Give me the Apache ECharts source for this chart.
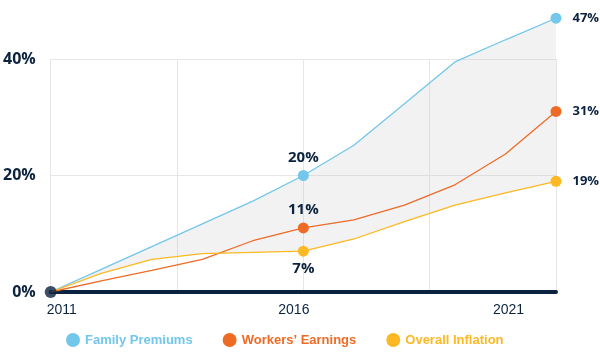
<!DOCTYPE html>
<html lang="en">
<head>
    <meta charset="utf-8">
    <title>Premiums vs Earnings vs Inflation</title>
    <script src="https://cdnjs.cloudflare.com/ajax/libs/echarts/6.0.0/echarts.min.js"></script>
    <style>
        html, body {margin: 0; padding: 0; background: #fff;}
        #chart {width: 600px; height: 354px;}
    </style>
</head>
<body>
<div id="chart"></div>
<script type="application/javascript">
    // data (cumulative % change since 2011)
    var years = ['2011', '2012', '2013', '2014', '2015', '2016', '2017', '2018', '2019', '2020', '2021'];
    var familyPremiums = [0, 3.9, 7.8, 11.7, 15.6, 20, 25.2, 32.3, 39.5, 43.3, 47];
    var workersEarnings = [0, 1.9, 3.7, 5.6, 8.8, 11, 12.4, 14.9, 18.4, 23.7, 31];
    var overallInflation = [0, 3.2, 5.6, 6.6, 6.8, 7, 9.1, 12.1, 14.9, 17.0, 19];
    var yTicks = [0, 20, 40];
    var markedIdx = [5, 10];

    var navy = '#0c2340';
    var blue = '#72c7ea';
    var orange = '#ee6b26';
    var yellow = '#fdb823';

    // grey band between premiums and inflation
    var bandValues = familyPremiums.map(function (v, i) {
        return +(v - overallInflation[i]).toFixed(2);
    });

    function makeData(values, midPos) {
        return values.map(function (v, i) {
            if (markedIdx.indexOf(i) < 0) {
                return {value: v, symbol: 'none'};
            }
            var last = i === values.length - 1;
            return {
                value: v,
                symbol: 'circle',
                symbolSize: 11,
                label: {
                    show: true,
                    position: last ? 'right' : midPos,
                    distance: last ? 11 : 5,
                    formatter: function (p) { return p.value + '%'; },
                    color: navy,
                    fontFamily: 'Open Sans',
                    fontWeight: 'bold',
                    fontSize: last ? 13 : 15
                }
            };
        });
    }

    function lineSeries(name, values, color, midPos) {
        return {
            name: name,
            type: 'line',
            clip: false,
            z: 3,
            showSymbol: true,
            itemStyle: {color: color},
            lineStyle: {color: color, width: 1.3},
            emphasis: {disabled: true},
            data: makeData(values, midPos)
        };
    }

    var chart = echarts.init(document.getElementById('chart'));

    var option = {
        animation: false,
        grid: {left: 50, right: 44, top: 59, bottom: 62},
        legend: {
            left: 61,
            top: 328,
            icon: 'circle',
            itemWidth: 14,
            itemHeight: 14,
            itemGap: 30,
            textStyle: {fontFamily: 'Liberation Sans', fontWeight: 'bold', fontSize: 13},
            data: [
                {name: 'Family Premiums', textStyle: {color: blue}},
                {name: 'Workers’ Earnings', textStyle: {color: orange}},
                {name: 'Overall Inflation', textStyle: {color: yellow}}
            ]
        },
        xAxis: [{
            type: 'category',
            data: years,
            boundaryGap: false,
            axisLine: {lineStyle: {color: navy, width: 4}},
            axisTick: {show: false},
            splitLine: {show: false},
            axisLabel: {
                interval: 4,
                margin: 11,
                formatter: function (v, i) {
                    if (i === 0) return '{a|' + v + '}';
                    if (i === 5) return '{b|' + v + '}';
                    return '{c|' + v + '}';
                },
                rich: {
                    a: {fontFamily: 'Liberation Sans', fontSize: 14, color: navy, padding: [0, 0, 0, 22]},
                    b: {fontFamily: 'Liberation Sans', fontSize: 14, color: navy, padding: [0, 19, 0, 0]},
                    c: {fontFamily: 'Liberation Sans', fontSize: 14, color: navy, padding: [0, 95, 0, 0]}
                }
            }
        }, {
            // only used for the vertical grid lines
            type: 'value',
            position: 'bottom',
            min: 0,
            max: 10,
            interval: 2.5,
            axisLine: {show: false},
            axisTick: {show: false},
            axisLabel: {show: false},
            splitLine: {show: true, lineStyle: {color: '#e6e6e6', width: 1}}
        }],
        yAxis: {
            type: 'value',
            min: yTicks[0],
            max: yTicks[yTicks.length - 1],
            interval: 20,
            axisLine: {show: false},
            axisTick: {show: false},
            axisLabel: {
                margin: 15,
                formatter: '{value}%',
                color: navy,
                fontFamily: 'Open Sans',
                fontWeight: 'bold',
                fontSize: 16
            },
            splitLine: {lineStyle: {color: '#e6e6e6', width: 1}}
        },
        series: [
            {
                name: 'base',
                type: 'line',
                stack: 'band',
                clip: false,
                silent: true,
                symbol: 'none',
                lineStyle: {opacity: 0},
                data: overallInflation
            },
            {
                name: 'band',
                type: 'line',
                stack: 'band',
                clip: false,
                silent: true,
                z: 1,
                symbol: 'none',
                lineStyle: {opacity: 0},
                areaStyle: {color: 'rgba(190,190,190,0.2)', opacity: 1},
                data: bandValues
            },
            lineSeries('Family Premiums', familyPremiums, blue, 'top'),
            lineSeries('Workers’ Earnings', workersEarnings, orange, 'top'),
            lineSeries('Overall Inflation', overallInflation, yellow, 'bottom'),
            {
                name: 'start',
                type: 'scatter',
                z: 5,
                symbolSize: 12,
                itemStyle: {color: navy},
                silent: true,
                data: [[0, 0]]
            }
        ]
    };

    chart.setOption(option);
</script>
</body>
</html>
